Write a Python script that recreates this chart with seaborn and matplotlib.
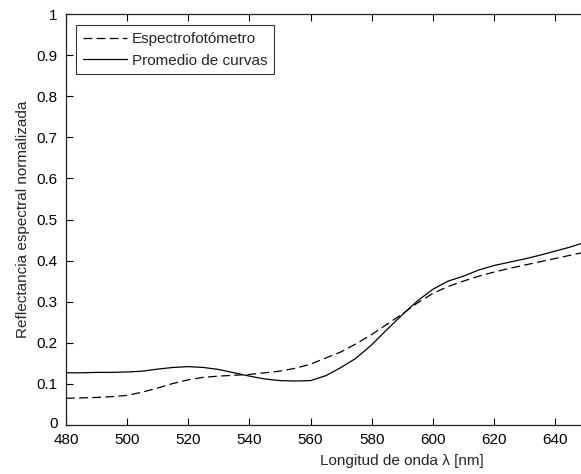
import numpy as np
import pandas as pd
import matplotlib
matplotlib.use("Agg")
import matplotlib.pyplot as plt
import matplotlib.transforms as mtransforms
import seaborn as sns

# Wavelengths (nm) and normalized spectral reflectance of both measurements
wavelength = [480, 485, 490, 495, 500, 505, 510, 515, 520, 525, 530, 535, 540,
              545, 550, 555, 560, 565, 570, 575, 580, 585, 590, 595, 600, 605,
              610, 615, 620, 625, 630, 635, 640, 645, 650]
espectrofotometro = [0.065, 0.066, 0.067, 0.069, 0.072, 0.080, 0.090, 0.101,
                     0.110, 0.116, 0.119, 0.121, 0.123, 0.127, 0.131, 0.138,
                     0.148, 0.163, 0.178, 0.198, 0.220, 0.245, 0.270, 0.297,
                     0.320, 0.337, 0.350, 0.362, 0.372, 0.381, 0.389, 0.397,
                     0.405, 0.413, 0.421]
promedio = [0.127, 0.127, 0.128, 0.128, 0.129, 0.131, 0.136, 0.140, 0.142,
            0.140, 0.135, 0.127, 0.119, 0.112, 0.108, 0.107, 0.108, 0.120,
            0.140, 0.163, 0.195, 0.232, 0.268, 0.302, 0.330, 0.350, 0.362,
            0.377, 0.388, 0.396, 0.404, 0.413, 0.423, 0.433, 0.445]

series_names = ["Espectrofotómetro", "Promedio de curvas"]
x_ticks = [480, 500, 520, 540, 560, 580, 600, 620, 640]
y_ticks = [0, 0.1, 0.2, 0.3, 0.4, 0.5, 0.6, 0.7, 0.8, 0.9, 1]
y_tick_labels = ["0", "0.1", "0.2", "0.3", "0.4", "0.5", "0.6", "0.7", "0.8", "0.9", "1"]

df = pd.DataFrame({
    "wl": wavelength * 2,
    "refl": espectrofotometro + promedio,
    "serie": [series_names[0]] * len(wavelength) + [series_names[1]] * len(wavelength),
})

sns.set_style("ticks")
plt.rcParams["font.family"] = ["Liberation Sans", "DejaVu Sans"]
plt.rcParams["xtick.direction"] = "in"
plt.rcParams["ytick.direction"] = "in"

fig = plt.figure(figsize=(5.81, 4.74), dpi=100)
W, H = 581, 474
px_per_nm = (555 - 66) / 160.0
ax_w = (700 - 480) * px_per_nm
ax_h = 425 - 14
ax = fig.add_axes([66 / W, (H - 425) / H, ax_w / W, ax_h / H])

sns.lineplot(data=df, x="wl", y="refl", style="serie", hue="serie",
             palette=["black", "black"], dashes=[(7, 3.5), ""],
             linewidth=0.9, ax=ax, legend=True)

ax.set_xlim(480, 700)
ax.set_ylim(0, 1)
ax.set_xticks(x_ticks)
ax.set_xticklabels([str(t) for t in x_ticks])
ax.set_yticks(y_ticks)
ax.set_yticklabels(y_tick_labels)
ax.tick_params(axis="both", labelsize=11, length=5, width=0.8, colors="black",
               top=True, right=True)
ax.tick_params(axis="x", pad=5.5)
ax.tick_params(axis="y", pad=6)
for s in ax.spines.values():
    s.set_color("#222222")
    s.set_linewidth(0.9)

# lift the "0" label a little so it clears the first x tick label
zero_label = ax.get_yticklabels()[0]
zero_label.set_transform(zero_label.get_transform() +
                         mtransforms.ScaledTranslation(0, 3 / 100, fig.dpi_scale_trans))

ax.set_xlabel("Longitud de onda λ [nm]", fontsize=11, labelpad=5)
ax.set_ylabel("Reflectancia espectral normalizada", fontsize=11, labelpad=5)

leg = ax.legend(loc="upper left",
                bbox_to_anchor=((76 - 66) / ax_w, 1 - (25 - 14) / ax_h),
                fontsize=11, frameon=True, fancybox=False, edgecolor="black",
                handlelength=2.9, handletextpad=0.3, borderpad=0.45,
                labelspacing=0.5, borderaxespad=0)
leg.get_frame().set_linewidth(0.8)

fig.savefig("out.png", dpi=100)
